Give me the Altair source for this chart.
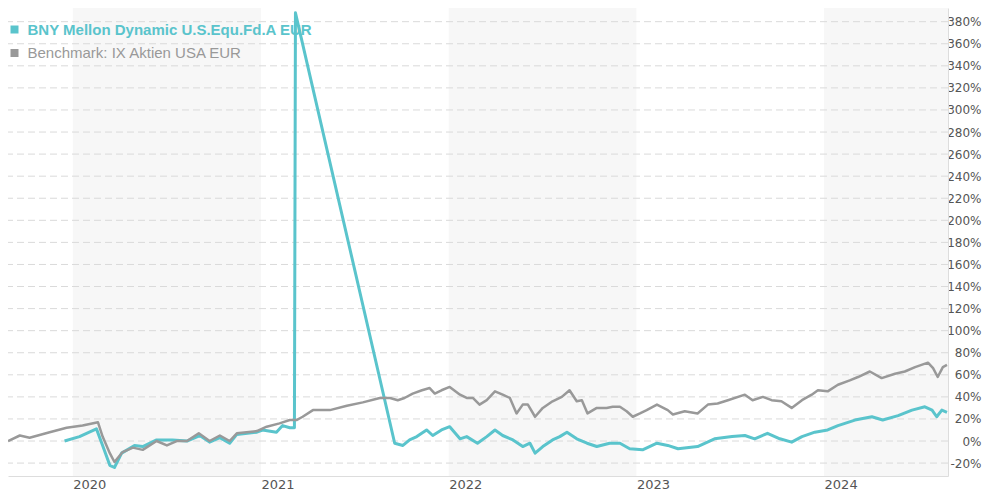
import altair as alt
import pandas as pd

# ---------------- data ----------------
fund_name = "BNY Mellon Dynamic U.S.Equ.Fd.A EUR"
bench_name = "Benchmark: IX Aktien USA EUR"

fund_dates = [
    "2019-12-16", "2020-01-14", "2020-02-16", "2020-02-28", "2020-03-13", "2020-03-22",
    "2020-04-05", "2020-04-30", "2020-05-16", "2020-06-12", "2020-07-13", "2020-08-10",
    "2020-09-04", "2020-09-23", "2020-10-13", "2020-11-01", "2020-11-15", "2020-12-24",
    "2021-01-04", "2021-01-31", "2021-02-12", "2021-02-26", "2021-03-07", "2021-03-09",
    "2021-09-18", "2021-10-04", "2021-10-17", "2021-10-31", "2021-11-19", "2021-12-01",
    "2021-12-18", "2022-01-03", "2022-01-23", "2022-02-05", "2022-02-26", "2022-03-16",
    "2022-04-01", "2022-04-16", "2022-05-06", "2022-05-25", "2022-06-08", "2022-06-18",
    "2022-07-03", "2022-07-22", "2022-08-05", "2022-08-19", "2022-09-07", "2022-09-27",
    "2022-10-16", "2022-11-10", "2022-11-30", "2022-12-19", "2023-01-13", "2023-02-10",
    "2023-03-03", "2023-03-23", "2023-04-30", "2023-06-02", "2023-07-06", "2023-07-31",
    "2023-08-19", "2023-09-13", "2023-10-07", "2023-10-30", "2023-11-19", "2023-12-14",
    "2024-01-08", "2024-01-28", "2024-03-01", "2024-04-03", "2024-04-24", "2024-05-24",
    "2024-06-20", "2024-07-15", "2024-07-29", "2024-08-07", "2024-08-17", "2024-08-27",
]
fund_values = [
    0, 4, 11, -4, -22, -24,
    -11, -4, -5, 1, 1, 0,
    5, -1, 3, -2, 6, 8,
    10, 8, 14, 12, 12, 388,
    -2, -4, 1, 4, 10, 5,
    10, 13, 2, 4, -2, 4,
    10, 5, 1, -5, -2, -11,
    -5, 1, 4, 8, 2, -2,
    -5, -2, -2, -7, -8, -2,
    -4, -7, -5, 2, 4, 5,
    2, 7, 2, -1, 4, 8,
    10, 14, 19, 22, 19, 23,
    28, 31, 28, 22, 28, 26,
]

bench_dates = [
    "2019-08-28", "2019-09-20", "2019-10-09", "2019-11-17", "2019-12-20", "2020-01-20",
    "2020-02-19", "2020-02-28", "2020-03-13", "2020-03-22", "2020-04-07", "2020-04-27",
    "2020-05-16", "2020-06-12", "2020-07-02", "2020-07-21", "2020-08-10", "2020-09-02",
    "2020-09-23", "2020-10-13", "2020-11-01", "2020-11-15", "2020-12-24", "2021-01-12",
    "2021-02-06", "2021-02-26", "2021-03-11", "2021-03-23", "2021-04-12", "2021-05-15",
    "2021-06-17", "2021-07-18", "2021-08-20", "2021-09-09", "2021-09-24", "2021-10-07",
    "2021-10-23", "2021-11-10", "2021-11-25", "2021-12-05", "2021-12-18", "2022-01-03",
    "2022-01-23", "2022-02-05", "2022-02-17", "2022-03-02", "2022-03-16", "2022-04-01",
    "2022-04-16", "2022-04-30", "2022-05-13", "2022-05-25", "2022-06-04", "2022-06-18",
    "2022-07-03", "2022-07-22", "2022-08-09", "2022-08-24", "2022-09-07", "2022-09-17",
    "2022-09-28", "2022-10-16", "2022-11-04", "2022-11-16", "2022-11-30", "2022-12-13",
    "2022-12-25", "2023-01-08", "2023-01-21", "2023-02-10", "2023-03-03", "2023-03-13",
    "2023-04-05", "2023-04-30", "2023-05-20", "2023-06-08", "2023-06-28", "2023-07-31",
    "2023-08-15", "2023-09-04", "2023-09-21", "2023-10-10", "2023-10-30", "2023-11-19",
    "2023-12-08", "2023-12-20", "2024-01-08", "2024-01-28", "2024-02-20", "2024-03-07",
    "2024-03-30", "2024-04-22", "2024-05-18", "2024-06-06", "2024-06-26", "2024-07-21",
    "2024-07-31", "2024-08-09", "2024-08-19", "2024-08-27",
]
bench_values = [
    0, 5, 3, 8, 12, 14,
    17, 4, -11, -19, -10, -6,
    -8, 0, -4, 0, 0, 7,
    0, 5, 0, 7, 9, 13,
    16, 19, 19, 22, 28, 28,
    32, 35, 39, 39, 37, 39,
    43, 46, 48, 43, 46, 49,
    42, 39, 39, 33, 37, 45,
    42, 39, 25, 33, 33, 22,
    30, 36, 40, 46, 36, 37,
    25, 30, 30, 31, 31, 27,
    22, 25, 28, 33, 28, 24,
    27, 25, 33, 34, 37, 42,
    37, 40, 37, 36, 30, 37,
    42, 46, 45, 51, 55, 58,
    63, 57, 61, 63, 67, 71,
    66, 58, 67, 69,
]

year_ticks = ["2020", "2021", "2022", "2023", "2024"]
band_starts = ["2020-01-01", "2022-01-01", "2024-01-01"]
band_ends = ["2021-01-01", "2023-01-01", "2024-08-29"]
y_ticks = [-20, 0, 20, 40, 60, 80, 100, 120, 140, 160, 180, 200, 220, 240,
           260, 280, 300, 320, 340, 360, 380]

# ---------------- styling ----------------
TEAL = "#5ac4cc"
GREY = "#999999"

fund_df = pd.DataFrame({"date": fund_dates, "value": fund_values})
bench_df = pd.DataFrame({"date": bench_dates, "value": bench_values})
band_df = pd.DataFrame({"start": band_starts, "end": band_ends})
grid_df = pd.DataFrame({"value": y_ticks})

x_scale = alt.Scale(
    type="utc",
    domain=[alt.DateTime(year=2019, month=8, date=28, utc=True),
            alt.DateTime(year=2024, month=8, date=29, utc=True)],
)
y_scale = alt.Scale(domain=[-31.7, 392.4], nice=False, zero=False)

x_axis = alt.Axis(
    values=[alt.DateTime(year=int(y), month=1, date=1, utc=True) for y in year_ticks],
    format="%Y", formatType="utc", title=None, grid=False, ticks=False,
    labelAlign="left", labelBaseline="top", labelPadding=2,
    labelFont="DejaVu Sans", labelFontSize=13, labelColor="#555555",
    domainColor="#dddddd", labelOverlap=False,
)
y_axis = alt.Axis(
    orient="right", values=y_ticks, labelExpr="datum.value + '%'", title=None,
    grid=False, ticks=False, labelAlign="right", labelPadding=33,
    labelFont="DejaVu Sans", labelFontSize=12, labelColor="#555555",
    domainColor="#dddddd",
)

bands = alt.Chart(band_df).mark_rect(color="#f7f7f7").encode(
    x=alt.X("start:T", scale=x_scale, axis=x_axis),
    x2="end:T",
)

grid = alt.Chart(grid_df).mark_rule(color="#dadada", strokeDash=[7, 4], strokeWidth=1).encode(
    y=alt.Y("value:Q", scale=y_scale, axis=y_axis),
)

fund_line = alt.Chart(fund_df).mark_line(color=TEAL, strokeWidth=3, strokeJoin="round").encode(
    x=alt.X("date:T", scale=x_scale, axis=x_axis),
    y=alt.Y("value:Q", scale=y_scale, axis=y_axis),
)

bench_line = alt.Chart(bench_df).mark_line(color=GREY, strokeWidth=2.5, strokeJoin="round").encode(
    x=alt.X("date:T", scale=x_scale, axis=x_axis),
    y=alt.Y("value:Q", scale=y_scale, axis=y_axis),
)

leg_df = pd.DataFrame({"name": [fund_name, bench_name]})
leg1_sq = alt.Chart(leg_df.iloc[[0]]).mark_square(size=64, color=TEAL, opacity=1).encode(
    x=alt.value(6.5), y=alt.value(21.5))
leg2_sq = alt.Chart(leg_df.iloc[[1]]).mark_square(size=64, color=GREY, opacity=1).encode(
    x=alt.value(6.5), y=alt.value(45))
leg1_tx = alt.Chart(leg_df.iloc[[0]]).mark_text(
    align="left", baseline="middle", font="Liberation Sans", fontSize=15,
    fontWeight="bold", color=TEAL).encode(x=alt.value(19.5), y=alt.value(22), text="name:N")
leg2_tx = alt.Chart(leg_df.iloc[[1]]).mark_text(
    align="left", baseline="middle", font="Liberation Sans", fontSize=15,
    color=GREY).encode(x=alt.value(19.5), y=alt.value(45), text="name:N")

chart = alt.layer(
    bands, grid, fund_line, bench_line, leg1_sq, leg2_sq, leg1_tx, leg2_tx
).properties(
    width=940, height=468,
    autosize=alt.AutoSizeParams(type="none"),
    padding={"left": 0, "top": 0, "right": 34, "bottom": 16},
    background="white",
).configure_view(strokeWidth=0)

chart.save("out.html", embed_options={"renderer": "svg", "actions": False})
